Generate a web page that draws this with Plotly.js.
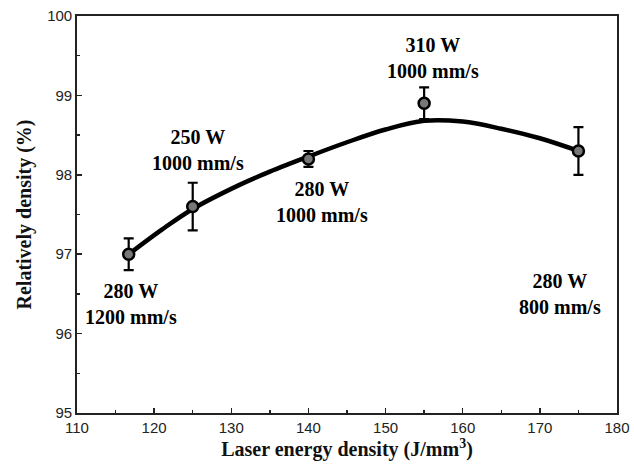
<!DOCTYPE html>
<html>
<head>
<meta charset="utf-8">
<script src="https://cdn.plot.ly/plotly-3.0.1.min.js"></script>
<style>html,body{margin:0;padding:0;background:#fff;}#chart{width:634px;height:467px;}</style>
</head>
<body>
<div id="chart"></div>
<script>
// Measured points
const energy = [116.7, 125, 140, 155, 175];
const density = [97.0, 97.6, 98.2, 98.9, 98.3];
const densityErr = [0.2, 0.3, 0.1, 0.2, 0.3];

// Fitted curve
const fitX = [116.7, 121, 125, 131, 135, 140, 145, 150, 155, 160, 165, 170, 175];
const fitY = [97.0, 97.31, 97.57, 97.87, 98.04, 98.23, 98.41, 98.57, 98.68, 98.67, 98.58, 98.46, 98.30];

// Annotations
const labelText = ["280 W<br>1200 mm/s", "250 W<br>1000 mm/s", "280 W<br>1000 mm/s", "310 W<br>1000 mm/s", "280 W<br>800 mm/s"];
const labelX = [117, 125.7, 141.8, 156.2, 172.6];
const labelY = [96.37, 98.31, 97.66, 99.47, 96.5];

const serif = "'Liberation Serif', 'Times New Roman', 'DejaVu Serif', serif";
const sans = "'Liberation Sans', Arial, sans-serif";

const traces = [
  {
    x: fitX, y: fitY, type: "scatter", mode: "lines",
    line: {color: "#000", width: 4.5, shape: "spline", smoothing: 1},
    hoverinfo: "skip", showlegend: false
  },
  {
    x: energy, y: density, type: "scatter", mode: "markers",
    error_y: {type: "data", array: densityErr, visible: true, color: "#000", thickness: 2.2, width: 5},
    marker: {size: 11, color: "#777", line: {color: "#000", width: 2.5}},
    showlegend: false
  }
];

const annotations = labelText.map((t, i) => ({
  x: labelX[i], y: labelY[i], xref: "x", yref: "y", text: "<b>" + t.replace("<br>", "</b><br><b>") + "</b>", showarrow: false,
  font: {family: serif, size: 20, color: "#000"},
  align: "center"
}));

const layout = {
  width: 634, height: 467,
  margin: {l: 77, r: 17, t: 16, b: 54},
  paper_bgcolor: "#fff", plot_bgcolor: "#fff",
  showlegend: false,
  font: {family: serif},
  xaxis: {
    range: [110, 180], tickvals: [110, 120, 130, 140, 150, 160, 170, 180],
    ticks: "inside", ticklen: 5, tickwidth: 1.5, tickcolor: "#222",
    minor: {dtick: 5, ticks: "inside", ticklen: 3, tickwidth: 1.5, tickcolor: "#222"},
    showline: true, linecolor: "#222", linewidth: 1.8, mirror: true,
    showgrid: false, zeroline: false,
    tickfont: {family: sans, size: 15, color: "#222"},
    title: {text: "<b>Laser energy density (J/mm<sup>3</sup>)</b>", font: {family: serif, size: 20, color: "#111"}, standoff: 5}
  },
  yaxis: {
    range: [95, 100], tickvals: [95, 96, 97, 98, 99, 100],
    ticks: "inside", ticklen: 5, tickwidth: 1.5, tickcolor: "#222",
    minor: {dtick: 0.5, ticks: "inside", ticklen: 3, tickwidth: 1.5, tickcolor: "#222"},
    showline: true, linecolor: "#222", linewidth: 1.8, mirror: true,
    showgrid: false, zeroline: false,
    tickfont: {family: sans, size: 15, color: "#222"},
    title: {text: "<b>Relatively density (%)</b>", font: {family: serif, size: 20, color: "#111"}, standoff: 10}
  },
  annotations: annotations
};

Plotly.newPlot("chart", traces, layout, {displayModeBar: false, staticPlot: true});
</script>
</body>
</html>
